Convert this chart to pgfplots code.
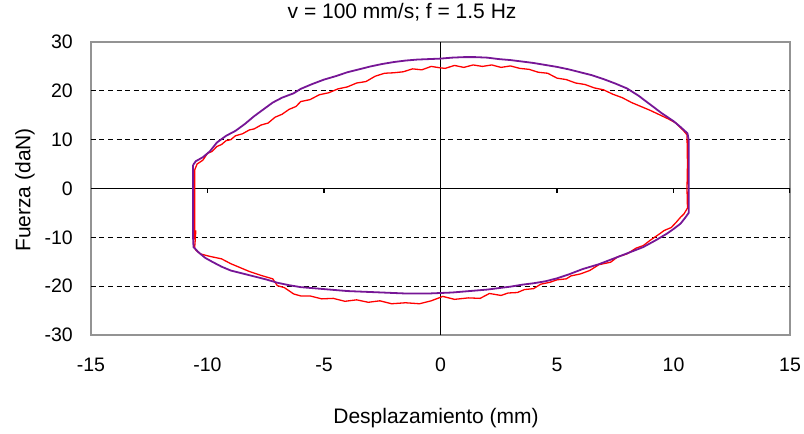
\documentclass[border=0pt]{standalone}
\usepackage{fontspec}
\setmainfont{Liberation Sans}
\usepackage{pgfplots}
\pgfplotsset{compat=1.18}
\definecolor{purp}{RGB}{118,22,150}
\begin{document}
\begin{tikzpicture}
\begin{axis}[name=ax,
 scale only axis, width=699pt, height=293pt,
 xmin=-15, xmax=15, ymin=-30, ymax=30,
 xtick={-15,-10,...,15}, xticklabels={-15,-10,-5,0,5,10,15},
 ytick={-30,-20,...,30}, yticklabels={-30,-20,-10,0,10,20,30},
 extra y ticks={-20,-10,10,20}, extra y tick labels={},
 extra tick style={grid=major, major tick length=0pt},
 major tick length=0pt,
 axis line style={draw=gray!85, line width=1.4pt},
 grid style={black, line width=1.2pt, dash pattern=on 5pt off 3.5pt},
 tick label style={font=\fontsize{19.5}{20}\selectfont, inner sep=0pt},
 yticklabel style={anchor=east, xshift=-18pt},
 xticklabel style={anchor=north, yshift=-23pt},
 title={v = 100 mm/s; f = 1.5 Hz},
 title style={at={(axis description cs:0.445,1.082)}, anchor=center, font=\fontsize{21}{22}\selectfont, inner sep=0pt},
 xlabel={Desplazamiento (mm)},
 xlabel style={at={(axis description cs:0.4936,-0.283)}, anchor=center, font=\fontsize{21}{22}\selectfont, inner sep=0pt},
 ylabel={Fuerza (daN)},
 ylabel style={at={(axis description cs:-0.0944,0.495)}, anchor=center, font=\fontsize{21}{22}\selectfont, inner sep=0pt},
 unbounded coords=jump,
]
% zero axes
\addplot[black, line width=1.8pt] coordinates {(-15,0) (15,0)};
\addplot[black, line width=1.8pt] coordinates {(0,-30) (0,30)};
\addplot[black, line width=1.4pt] coordinates {(-10,0) (-10,-1.0) (nan,nan) (-5,0) (-5,-1.0) (nan,nan) (5,0) (5,-1.0) (nan,nan) (10,0) (10,-1.0) (nan,nan) (15,0) (15,-1.0)};
% red (measured)
\addplot[red, line width=1.3pt] coordinates {
(-10.55,3.8) (-10.45,5.0) (-10.2,5.8) (-10.0,7.2) (-9.8,7.6) (-9.6,8.6) (-9.4,9.0) (-9.2,9.8) (-9.0,10.0) (-8.8,10.8) (-8.5,11.2) (-8.2,12.0) (-8.0,12.2) (-7.7,13.0) (-7.4,13.4) (-7.1,14.6) (-6.8,15.2) (-6.5,16.2) (-6.2,16.8) (-6.0,17.8) (-5.6,18.2) (-5.2,19.2) (-4.8,19.6) (-4.4,20.4) (-4.0,20.8) (-3.6,21.6) (-3.2,21.9) (-2.8,23.0) (-2.4,23.6) (-2.0,23.7) (-1.6,23.9) (-1.2,24.5) (-0.8,24.3) (-0.4,25.0) (0.0,24.7) (0.2,24.6) (0.6,25.2) (1.0,24.8) (1.4,25.3) (1.8,25.0) (2.2,25.3) (2.6,24.8) (3.0,25.1) (3.4,24.6) (3.8,24.4) (4.2,23.8) (4.6,23.6) (5.0,22.6) (5.4,22.3) (5.8,21.6) (6.2,21.3) (6.6,20.6) (7.0,20.2) (7.4,19.3) (7.8,18.6) (8.2,17.6) (8.6,16.8) (9.0,16.0) (9.4,15.1) (9.8,14.2) (10.1,13.4) (10.4,12.0) (10.58,11.0) (10.6,5.0) (10.58,0.0) (10.6,-4.0)
(10.45,-5.2) (10.3,-5.9) (10.1,-7.0) (9.9,-8.0) (9.6,-8.6) (9.4,-9.3) (9.0,-10.6) (8.7,-11.7) (8.4,-12.2) (8.0,-13.4) (7.6,-14.0) (7.3,-15.1) (6.8,-15.6) (6.4,-16.8) (6.0,-17.5) (5.6,-17.9) (5.4,-18.5) (5.0,-18.7) (4.7,-19.2) (4.3,-19.6) (4.0,-20.5) (3.6,-20.7) (3.3,-21.3) (2.9,-21.4) (2.6,-21.9) (2.1,-21.5) (1.7,-22.5) (1.2,-22.4) (0.6,-22.7) (0.1,-22.1) (-0.4,-23.0) (-0.9,-23.6) (-1.5,-23.4) (-2.1,-23.6) (-2.6,-23.0) (-3.1,-23.3) (-3.6,-22.8) (-4.1,-23.1) (-4.6,-22.5) (-5.1,-22.6) (-5.6,-22.0) (-6.0,-22.0) (-6.3,-21.6) (-6.7,-20.3) (-7.0,-19.9) (-7.2,-18.5) (-7.7,-17.8) (-8.2,-17.0) (-8.6,-16.2) (-9.0,-15.4) (-9.4,-14.4) (-9.9,-13.9) (-10.3,-13.4) (-10.5,-12.6) (-10.55,-12.1) (-10.5,-8.6) (-10.55,-9.5) (-10.55,0.0) (-10.55,3.8)
};
% purple (model)
\addplot[purp, line width=1.8pt] coordinates {
(-10.62,4.8) (-10.5,5.6) (-10.2,6.4) (-9.9,7.6) (-9.6,9.4) (-9.2,10.8) (-8.8,11.8) (-8.4,13.2) (-8.0,14.8) (-7.6,16.2) (-7.2,17.6) (-6.8,18.6) (-6.3,19.5) (-6.0,20.4) (-5.5,21.4) (-5.0,22.3) (-4.5,23.0) (-4.0,23.8) (-3.5,24.4) (-3.0,25.0) (-2.5,25.5) (-2.0,25.9) (-1.5,26.2) (-1.0,26.4) (-0.5,26.5) (0.0,26.6) (0.5,26.8) (1.0,26.9) (1.5,26.9) (2.0,26.8) (2.5,26.5) (3.0,26.3) (3.5,26.0) (4.0,25.7) (4.5,25.3) (5.0,24.9) (5.5,24.4) (6.0,23.8) (6.5,23.2) (7.0,22.4) (7.5,21.5) (8.0,20.5) (8.5,19.0) (9.0,17.2) (9.5,15.4) (10.0,13.8) (10.3,12.6) (10.6,11.3) (10.65,10.0) (10.65,0.0) (10.65,-5.0)
(10.5,-6.0) (10.3,-7.2) (10.0,-8.3) (9.7,-9.3) (9.2,-10.7) (8.7,-12.0) (8.0,-13.3) (7.4,-14.4) (6.8,-15.5) (6.1,-16.5) (5.5,-17.6) (5.0,-18.4) (4.5,-19.0) (4.0,-19.4) (3.5,-19.7) (3.0,-20.1) (2.5,-20.4) (2.0,-20.7) (1.5,-20.9) (1.0,-21.1) (0.5,-21.3) (0.0,-21.4) (-0.5,-21.5) (-1.0,-21.5) (-1.5,-21.5) (-2.0,-21.4) (-2.5,-21.3) (-3.0,-21.2) (-3.5,-21.1) (-4.0,-21.0) (-4.5,-20.8) (-5.0,-20.6) (-5.5,-20.4) (-6.0,-20.2) (-6.5,-19.8) (-7.0,-19.3) (-7.5,-18.6) (-8.0,-18.0) (-8.5,-17.4) (-9.0,-16.8) (-9.4,-16.0) (-9.8,-15.0) (-10.1,-14.2) (-10.4,-13.0) (-10.6,-12.0) (-10.62,-10.0) (-10.62,0.0) (-10.62,4.8)
};
\end{axis}
\pgfresetboundingbox
\path[use as bounding box] ([shift={(-91pt,-98pt)}]ax.south west) rectangle ([shift={(14pt,42pt)}]ax.north east);
\end{tikzpicture}
\end{document}
